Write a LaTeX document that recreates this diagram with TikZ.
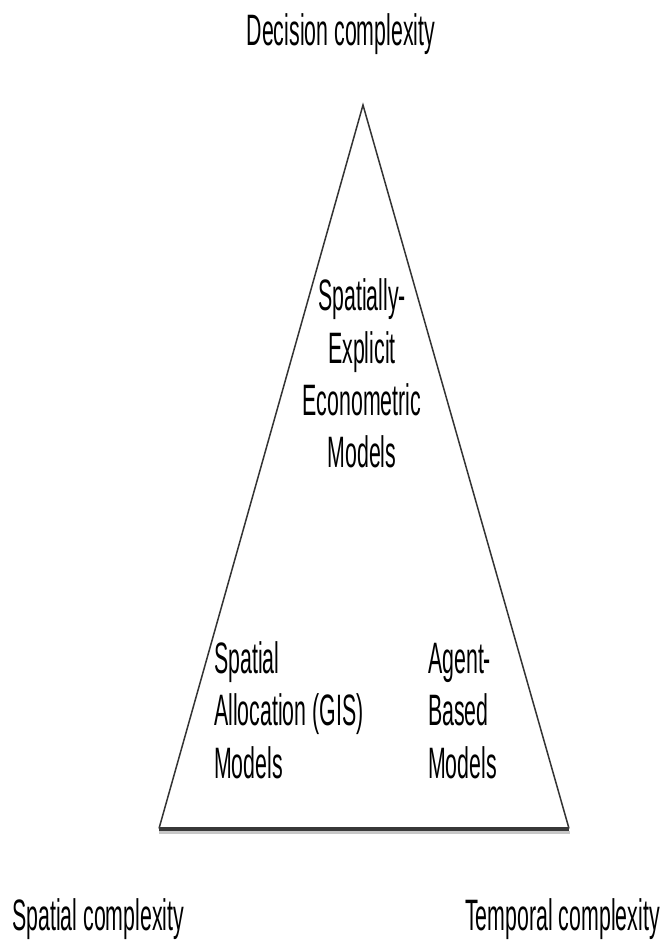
\documentclass[tikz,border=0pt]{standalone}
\usepackage{fontspec}
\newfontfamily\cf[FakeStretch=0.485]{Liberation Sans}
\begin{document}
\begin{tikzpicture}[x=1bp,y=-1bp,
  lbl/.style={font=\cf\fontsize{44bp}{52bp}\selectfont, inner sep=0pt, text=black},
  side/.style={draw=black!80, line width=1.5bp},
  baseline/.style={draw=black!78, line width=4bp},
  shadow/.style={draw=black!22, line width=3bp}]
\useasboundingbox[fill=white] (0,0) rectangle (663,942);
% triangle
\coordinate (apex) at (363,105);
\coordinate (bl) at (159,828.5);
\coordinate (br) at (569,828.5);
\coordinate (sbl) at (159,832.5);
\coordinate (sbr) at (570,832.5);
\draw[shadow] (sbl) -- (sbr);
\draw[side] (bl) -- (apex) -- (br);
\draw[baseline] (bl) -- (br);
% titles
\node[lbl, anchor=base] (dec) at (341,45) {Decision complexity};
\node[lbl, anchor=base west] (spc) at (12,930) {Spatial complexity};
\node[lbl, anchor=base east] (tmp) at (660,930) {Temporal complexity};
% central label
\node[lbl, anchor=base] (se1) at (362,310) {Spatially-};
\node[lbl, anchor=base] (se2) at (362,363) {Explicit};
\node[lbl, anchor=base] (se3) at (362,415) {Econometric};
\node[lbl, anchor=base] (se4) at (362,467) {Models};
% left label
\node[lbl, anchor=base west] (sa1) at (214,673) {Spatial};
\node[lbl, anchor=base west] (sa2) at (214,725) {Allocation (GIS)};
\node[lbl, anchor=base west] (sa3) at (214,778) {Models};
% right label
\node[lbl, anchor=base west] (ab1) at (428,673) {Agent-};
\node[lbl, anchor=base west] (ab2) at (428,725) {Based};
\node[lbl, anchor=base west] (ab3) at (428,778) {Models};
\end{tikzpicture}
\end{document}
